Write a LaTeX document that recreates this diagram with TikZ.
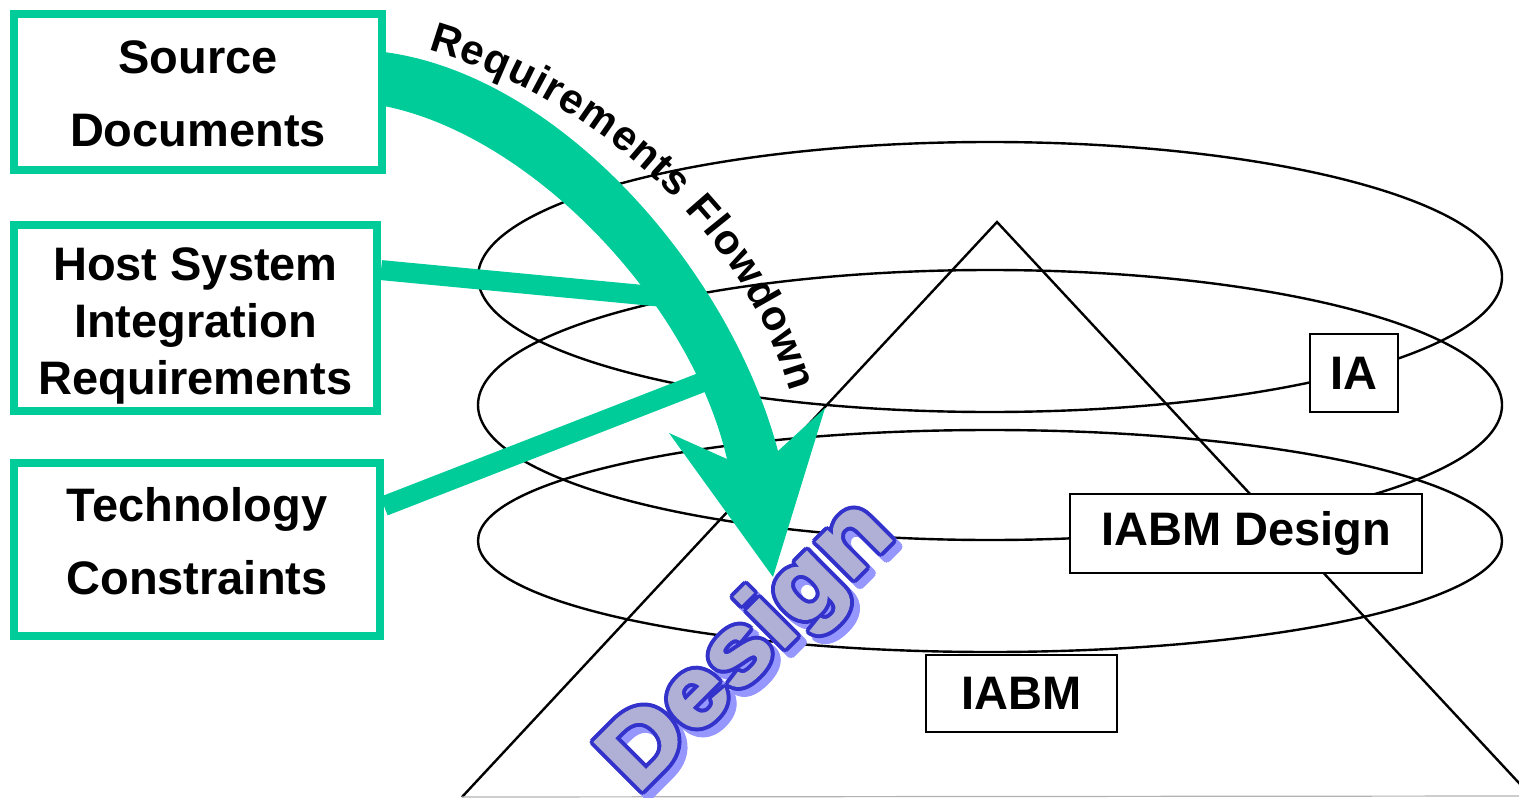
\documentclass[tikz,border=0pt]{standalone}
\usepackage{fontspec}
\setmainfont{Liberation Sans}
\newfontface\dsgface{Liberation Sans Bold}[FakeBold=2]
\usetikzlibrary{decorations.text,calc}
\definecolor{grn}{RGB}{0,204,153}
\definecolor{dblue}{RGB}{51,51,204}
\definecolor{dshadow}{RGB}{150,150,255}
\definecolor{dfill}{RGB}{176,176,214}
\begin{document}
\begin{tikzpicture}[x=0.5pt,y=-0.5pt,
  gbox/.style={draw=grn, line width=4pt, fill=white, inner sep=0pt},
  gtxt/.style={inner sep=0pt, align=center, font=\bfseries\fontsize{23.5}{36.5}\selectfont},
  bbox/.style={draw=black, line width=1.2pt, fill=white, inner sep=0pt,
    font=\bfseries\fontsize{23.5}{28}\selectfont},
  ring/.style={draw=black, line width=1.2pt},
  band/.style={draw=grn, line width=10pt},
  dsg/.style={inner sep=0pt, anchor=base west, rotate=45, xscale=1.12,
    font=\dsgface\fontsize{49}{49}\selectfont}]
\useasboundingbox (0,0) rectangle (1519,797);
\clip (0,0) rectangle (1519,797);

% ellipses
\draw[ring] (990,277) ellipse [x radius=256pt, y radius=67.5pt];
\draw[ring] (990,405) ellipse [x radius=256pt, y radius=67.5pt];
\draw[ring] (990,541) ellipse [x radius=256pt, y radius=55.5pt];

% triangle
\coordinate (apex) at (997,222);
\coordinate (bl) at (462,797);
\coordinate (br) at (1532,797);
\draw[ring] (bl) -- (apex) -- (br);
\draw[gray!60, line width=0.6pt] (bl) -- (1519,796);

% black boxes
\node[bbox, minimum width=44pt, minimum height=39pt] (ia) at (1354,373) {IA};
\node[bbox, minimum width=176pt, minimum height=39.5pt] (iabmd) at (1246,533.5) {IABM Design};
\node[bbox, minimum width=95.5pt, minimum height=38.5pt] (iabm) at (1021.5,693.5) {IABM};

% green boxes
\node[gbox, minimum width=184pt, minimum height=78pt] (src) at (198,92) {};
\node[gtxt] (srctxt) at (198,94) {Source\\Documents};
\node[gbox, minimum width=181.5pt, minimum height=93pt] (host) at (195.5,318) {};
\node[gtxt, font=\bfseries\fontsize{23.5}{28.5}\selectfont] (hosttxt) at (195.5,326) {Host System\\Integration\\Requirements};
\node[gbox, minimum width=183pt, minimum height=86.5pt] (tech) at (197,549.5) {};
\node[gtxt] (techtxt) at (197,541) {Technology\\Constraints};

% green bands
\coordinate (hostend) at (664,297);
\coordinate (techend) at (708,380);
\draw[band] ($(host.north east)!0.253!(host.south east)$) -- (hostend);
\draw[band] ($(tech.north east)!0.26!(tech.south east)$) -- (techend);

% big flowdown arrow
\fill[grn] (384,52) .. controls (560,75) and (730,270) .. (778,451)
  -- (825,408) -- (773,577) -- (669,433) -- (727,459)
  .. controls (690,300) and (530,135) .. (384,106) -- cycle;

% curved label
\path[decorate, decoration={text along path, text align={fit to path},
  text={|\bfseries\fontsize{21}{21}\selectfont|Requirements Flowdown}}]
  (428,50) .. controls (600,100) and (745,235) .. (790,392);

% Design word art
\foreach \a in {0,30,...,330}
  \node[dsg, text=dshadow] (dsh\a) at ({643+4*cos(\a)},{801+4*sin(\a)}) {Design};
\foreach \a in {0,30,...,330}
  \node[dsg, text=dblue] (dol\a) at ({637+4*cos(\a)},{795+4*sin(\a)}) {Design};
\node[dsg, text=dfill] (design) at (637,795) {Design};
\end{tikzpicture}
\end{document}
